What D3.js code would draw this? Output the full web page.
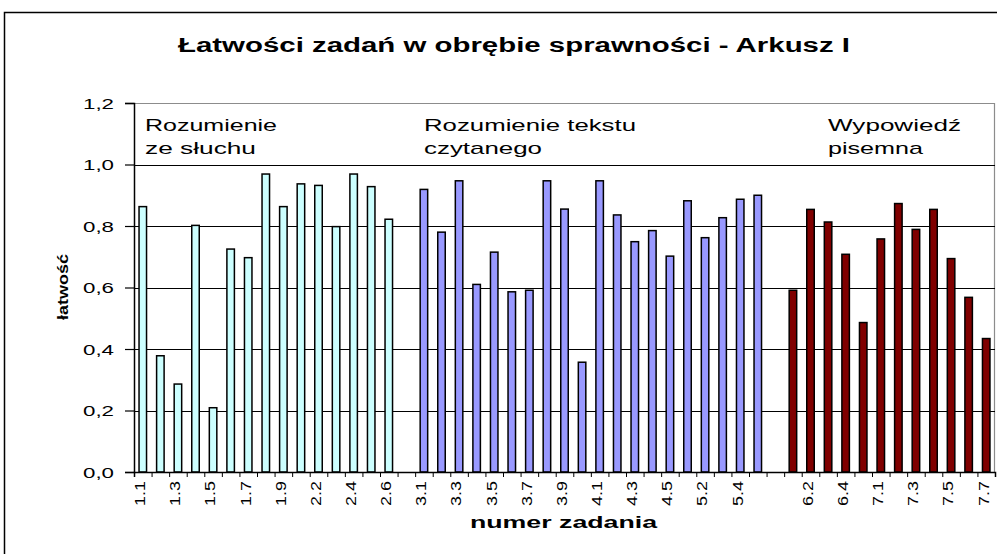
<!DOCTYPE html>
<html>
<head>
<meta charset="utf-8">
<script src="https://cdn.jsdelivr.net/npm/d3@7"></script>
<style>
  html, body { margin: 0; padding: 0; background: #ffffff; }
  svg text { font-family: Arial, "Liberation Sans", sans-serif; fill: #000; }
</style>
</head>
<body>
<div id="chart"></div>
<script>
// task ids and "łatwość" per skill
const listeningIds = ["1.1","1.2","1.3","1.4","1.5","1.6","1.7","1.8","1.9","2.1","2.2","2.3","2.4","2.5","2.6"];
const listening    = [0.863,0.378,0.286,0.802,0.209,0.725,0.697,0.969,0.863,0.937,0.932,0.798,0.969,0.928,0.822];

const readingIds = ["3.1","3.2","3.3","3.4","3.5","3.6","3.7","3.8","3.9","3.10","4.1","4.2","4.3","4.4","4.5","5.1","5.2","5.3","5.4","5.5"];
const reading    = [0.919,0.780,0.947,0.610,0.715,0.586,0.591,0.947,0.855,0.357,0.947,0.836,0.749,0.785,0.702,0.882,0.762,0.827,0.887,0.900];

const writingIds = ["6.1","6.2","6.3","6.4","6.5","7.1","7.2","7.3","7.4","7.5","7.6","7.7"];
const writing    = [0.591,0.854,0.813,0.708,0.486,0.758,0.873,0.789,0.854,0.694,0.568,0.434];

const yTicks = [0, 0.2, 0.4, 0.6, 0.8, 1.0, 1.2];

const groups = [
  { ids: listeningIds, values: listening, color: "#ccffff", lines: ["Rozumienie", "ze słuchu"], widths: [132, 111] },
  { ids: readingIds,   values: reading,   color: "#9999ff", lines: ["Rozumienie tekstu", "czytanego"], widths: [212, 118] },
  { ids: writingIds,   values: writing,   color: "#800000", lines: ["Wypowiedź", "pisemna"], widths: [133, 95] }
];

// one flat list of categories, with an empty slot between the skills
const cats = [];
groups.forEach((g, gi) => {
  if (gi > 0) cats.push({ id: "", value: null, group: null });
  g.ids.forEach((id, i) => cats.push({ id, value: g.values[i], group: g }));
});
cats.forEach((c, i) => c.index = i);

const W = 997, H = 554;
const plot = { left: 134, right: 995, top: 103, bottom: 472 };

const svg = d3.select("#chart").append("svg")
  .attr("width", W).attr("height", H);

// outer frame (runs off the right and bottom edge)
svg.append("rect")
  .attr("x", 4.5).attr("y", 12.5)
  .attr("width", 1010).attr("height", 560)
  .attr("fill", "none").attr("stroke", "#000").attr("stroke-width", 1.5);

const x = d3.scaleBand()
  .domain(cats.map(c => c.index))
  .range([plot.left, plot.right])
  .padding(0);

const xb = d3.scaleLinear().domain([0, cats.length]).range([plot.left, plot.right]);

const y = d3.scaleLinear().domain([0, 1.2]).range([plot.bottom, plot.top]);

// plot area frame (grey top and right)
svg.append("path")
  .attr("d", `M${plot.left},${plot.top + 0.5}H${plot.right - 0.5}V${plot.bottom}`)
  .attr("fill", "none").attr("stroke", "#8c8c8c").attr("stroke-width", 1.2);

// gridlines
svg.append("g")
  .selectAll("line")
  .data(yTicks.filter(t => t > 0 && t < 1.2))
  .join("line")
  .attr("x1", plot.left).attr("x2", plot.right)
  .attr("y1", d => Math.round(y(d)) + 0.5).attr("y2", d => Math.round(y(d)) + 0.5)
  .attr("stroke", "#000").attr("stroke-width", 1);

// bars
svg.append("g")
  .selectAll("rect")
  .data(cats.filter(c => c.value !== null))
  .join("rect")
  .attr("x", d => x(d.index) + x.bandwidth() / 2 - 3.75)
  .attr("y", d => y(d.value))
  .attr("width", 7.5)
  .attr("height", d => y(0) - y(d.value))
  .attr("fill", d => d.group.color)
  .attr("stroke", "#000")
  .attr("stroke-width", 1.5);

// y axis
const yAxis = svg.append("g")
  .attr("transform", `translate(${plot.left},0)`)
  .call(d3.axisLeft(y).tickValues(yTicks).tickSize(9).tickPadding(11)
    .tickFormat(d => d3.format(".1f")(d).replace(".", ",")));
yAxis.select(".domain").attr("stroke", "#000").attr("stroke-width", 1.5);
yAxis.selectAll(".tick line").attr("stroke", "#000").attr("stroke-width", 1.2);
yAxis.selectAll(".tick text")
  .attr("font-size", 15)
  .attr("textLength", 31)
  .attr("lengthAdjust", "spacingAndGlyphs")
  .attr("dy", "0.36em");

// x axis: ticks on category boundaries
const xAxis = svg.append("g")
  .attr("transform", `translate(0,${plot.bottom})`)
  .call(d3.axisBottom(xb).tickValues(d3.range(cats.length + 1)).tickSize(5).tickFormat(""));
xAxis.select(".domain").attr("stroke", "#000").attr("stroke-width", 1.5);
xAxis.selectAll(".tick line").attr("stroke", "#000").attr("stroke-width", 1);

// category labels, every other one, rotated
svg.append("g")
  .selectAll("text")
  .data(cats.filter(c => c.index % 2 === 0 && c.id !== ""))
  .join("text")
  .attr("transform", d => `translate(${x(d.index) + x.bandwidth() / 2 - 3},${plot.bottom + 9}) rotate(-90)`)
  .attr("text-anchor", "end")
  .attr("dy", "0.36em")
  .attr("font-size", 15)
  .attr("textLength", d => d.id.length * 8.3)
  .attr("lengthAdjust", "spacingAndGlyphs")
  .text(d => d.id);

// skill names inside the plot
const starts = [145, 424, 828];
groups.forEach((g, gi) => {
  g.lines.forEach((line, li) => {
    svg.append("text")
      .attr("x", starts[gi])
      .attr("y", 131 + li * 23)
      .attr("font-size", 17)
      .attr("textLength", g.widths[li])
      .attr("lengthAdjust", "spacingAndGlyphs")
      .text(line);
  });
});

// title
svg.append("text")
  .attr("x", 178).attr("y", 52)
  .attr("font-size", 20).attr("font-weight", "bold")
  .attr("textLength", 672)
  .attr("lengthAdjust", "spacingAndGlyphs")
  .text("Łatwości zadań w obrębie sprawności -  Arkusz I");

// axis titles
svg.append("text")
  .attr("x", 470).attr("y", 528)
  .attr("font-size", 17).attr("font-weight", "bold")
  .attr("textLength", 187)
  .attr("lengthAdjust", "spacingAndGlyphs")
  .text("numer zadania");

svg.append("text")
  .attr("transform", "translate(63,287) rotate(-90)")
  .attr("text-anchor", "middle")
  .attr("dy", "0.36em")
  .attr("font-size", 15).attr("font-weight", "bold")
  .attr("textLength", 66)
  .attr("lengthAdjust", "spacingAndGlyphs")
  .text("łatwość");
</script>
</body>
</html>
